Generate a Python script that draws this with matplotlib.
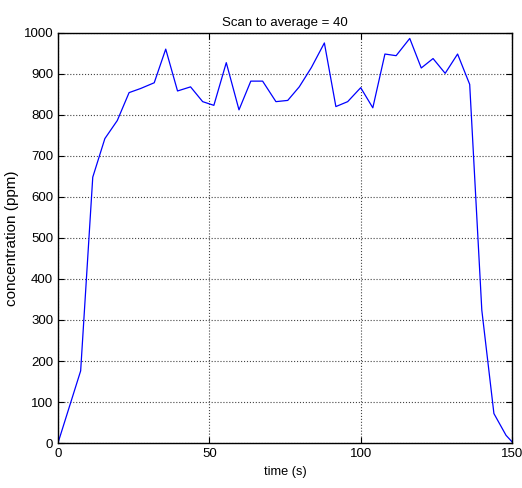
import numpy as np
import matplotlib
matplotlib.use('Agg')
import matplotlib.pyplot as plt

# values
time_s = [0, 7.5, 11.5, 15.5, 19.6, 23.5, 27.3, 31.8, 35.6, 39.5, 43.8, 47.8,
          51.5, 55.6, 59.8, 63.7, 67.6, 72.0, 75.9, 79.7, 83.7, 88.0, 91.8,
          95.7, 100.0, 104.0, 108.0, 111.7, 116.2, 120.0, 123.9, 127.9, 132.0,
          136.0, 140.0, 144.0, 148.0, 150.0]
conc_ppm = [0, 176, 648, 742, 786, 854, 864, 878, 960, 858, 868, 832,
            823, 927, 812, 882, 882, 832, 835, 868, 915, 975, 820,
            832, 866, 817, 948, 944, 986, 914, 937, 901, 948,
            874, 324, 72, 19, 3]

x_ticks = [0, 50, 100, 150]
y_ticks = list(range(0, 1001, 100))

plt.rcParams['font.family'] = ['Liberation Sans', 'DejaVu Sans']
plt.rcParams['font.size'] = 9.5

fig = plt.figure(figsize=(5.22, 4.88), dpi=100)
ax = fig.add_axes([0.111, 0.092, 0.870, 0.841])

ax.plot(time_s, conc_ppm, color='#0000ff', linewidth=0.9)

ax.set_xlim(0, 150)
ax.set_ylim(0, 1000)
ax.set_xticks(x_ticks)
ax.set_yticks(y_ticks)
ax.tick_params(direction='in', top=True, right=True, length=4, width=0.8)

ax.grid(True, linestyle=':', color='#444444', linewidth=0.8)
for s in ax.spines.values():
    s.set_linewidth(1.0)

ax.set_title('Scan to average = 40', fontsize=9.5, pad=5)
ax.set_xlabel('time (s)', fontsize=9.2, labelpad=4)
ax.set_ylabel('concentration (ppm)', fontsize=11)
ax.yaxis.set_label_coords(-0.086, 0.5)

fig.savefig('out.png', dpi=100)
